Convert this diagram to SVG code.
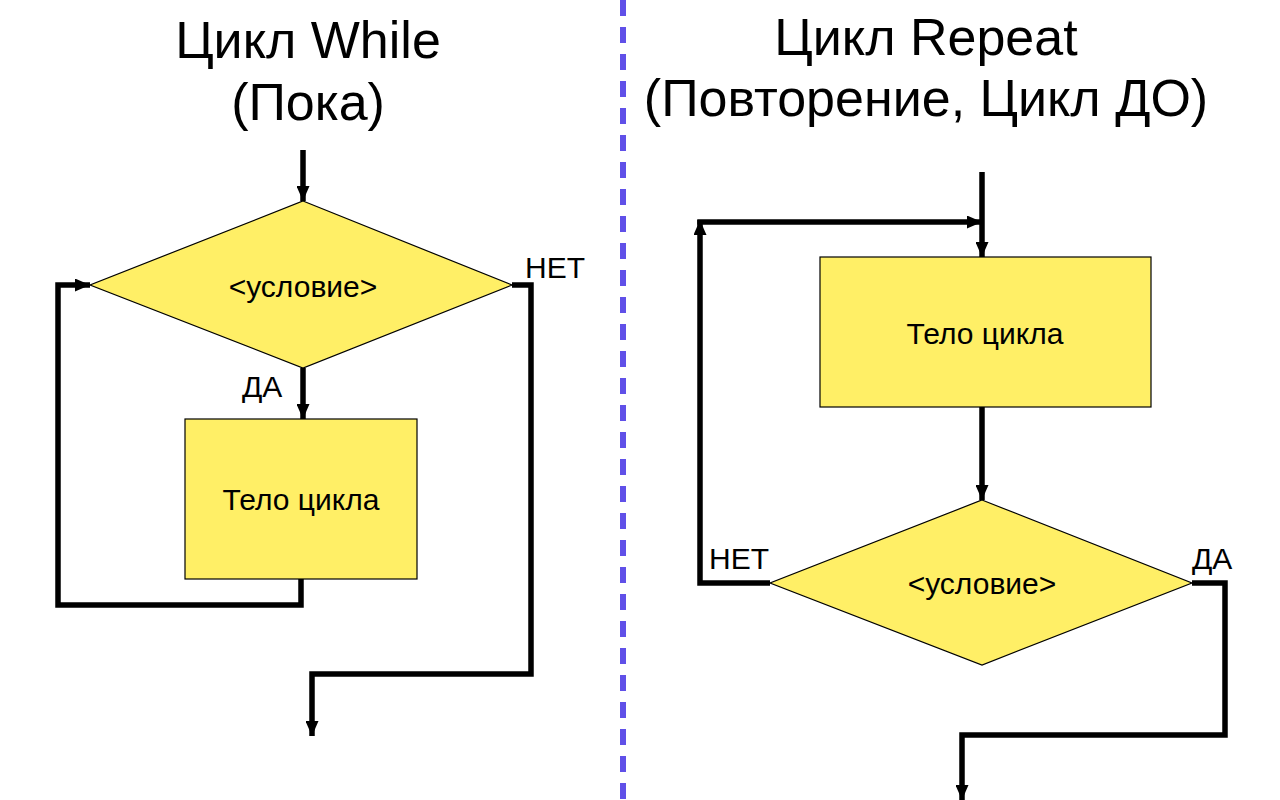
<svg xmlns="http://www.w3.org/2000/svg" width="1280" height="800" viewBox="0 0 1280 800">
<style>
.title{font-family:"Liberation Sans",Arial,sans-serif;font-size:52px;fill:#000;text-anchor:middle}
.lbl{font-family:"Liberation Sans",Arial,sans-serif;font-size:30px;fill:#000}
.mid{text-anchor:middle}
.shape{fill:#FFEF66;stroke:#000;stroke-width:1.2}
.conn{fill:none;stroke:#000;stroke-width:5.5;stroke-linejoin:miter;stroke-linecap:butt}
</style>
<defs>
<marker id="arr" viewBox="0 0 15 13" markerWidth="15" markerHeight="13" refX="15" refY="6.5" orient="auto" markerUnits="userSpaceOnUse">
<path d="M0,0 L15,6.5 L0,13 z" fill="#000"/>
</marker>
</defs>
<rect width="1280" height="800" fill="#fff"/>
<line x1="623" y1="0" x2="623" y2="800" stroke="#6050E8" stroke-width="6" stroke-dasharray="16 11"/>
<g id="titles">
<text class="title" x="308" y="58">Цикл While</text>
<text class="title" x="308" y="120">(Пока)</text>
<text class="title" x="926" y="55">Цикл Repeat</text>
<text class="title" x="926" y="116">(Повторение, Цикл ДО)</text>
</g>
<g id="connectors">
<path class="conn" d="M303,150 L303,201" marker-end="url(#arr)"/>
<path class="conn" d="M303,368 L303,419" marker-end="url(#arr)"/>
<path class="conn" d="M301,579 L301,605 L58,605 L58,285 L90,285" marker-end="url(#arr)"/>
<path class="conn" d="M512,285 L531,285 L531,674 L312,674 L312,736" marker-end="url(#arr)"/>
<path class="conn" d="M982,172 L982,257" marker-end="url(#arr)"/>
<path class="conn" d="M770,583 L700,583 L700,220" marker-end="url(#arr)"/>
<path class="conn" d="M697.25,222 L982,222" marker-end="url(#arr)"/>
<path class="conn" d="M982,407 L982,500" marker-end="url(#arr)"/>
<path class="conn" d="M1192,583 L1225,583 L1225,735 L962,735 L962,800" marker-end="url(#arr)"/>
</g>
<g id="while-cond">
<polygon class="shape" points="303,201 512,285 303,368 90,285"/>
<text class="lbl mid" x="303" y="297">&lt;условие&gt;</text>
</g>
<g id="while-body">
<rect class="shape" x="185" y="419" width="232" height="160"/>
<text class="lbl mid" x="301" y="510">Тело цикла</text>
</g>
<g id="while-labels">
<text class="lbl" x="242" y="397">ДА</text>
<text class="lbl" x="525" y="278">НЕТ</text>
</g>
<g id="repeat-body">
<rect class="shape" x="820" y="257" width="331" height="150"/>
<text class="lbl mid" x="985" y="344">Тело цикла</text>
</g>
<g id="repeat-cond">
<polygon class="shape" points="982,500 1192,583 982,665 770,583"/>
<text class="lbl mid" x="982" y="594">&lt;условие&gt;</text>
</g>
<g id="repeat-labels">
<text class="lbl" x="709" y="569">НЕТ</text>
<text class="lbl" x="1192" y="569">ДА</text>
</g>
</svg>
